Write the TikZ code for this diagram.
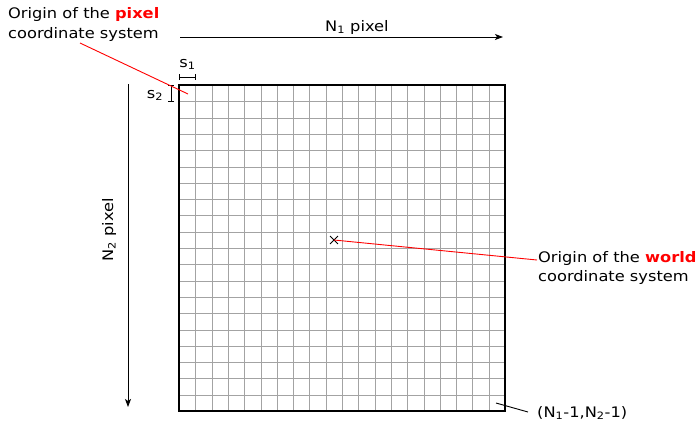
\documentclass[tikz,border=0pt]{standalone}
\usepackage{fontspec}
\setmainfont[FakeStretch=1.12]{DejaVu Sans}
\usetikzlibrary{arrows.meta,shapes.misc}

\tikzset{
  txt/.style={inner sep=0pt, anchor=base west, font=\fontsize{14.5}{17}\selectfont},
  axis/.style={line width=1pt, -{Stealth[length=8pt,width=6pt,inset=2pt]}},
  dimbar/.style={line width=0.8pt, {Bar[width=6pt]}-{Bar[width=6pt]}},
  cell/.style={draw=gray!72, line width=1.3pt},
  frame/.style={draw=black, line width=2.6pt},
  pointer/.style={red, line width=0.9pt},
  origmark/.style={draw, cross out, minimum size=7pt, inner sep=0pt, line width=0.9pt}
}

\begin{document}
\begin{tikzpicture}[x=1pt,y=-1pt]
\useasboundingbox (0,0) rectangle (700,424);

% pixel grid, 20 x 20 cells of 16.3
\foreach \i in {1,...,19} {
  \pgfmathsetmacro\px{179+round(16.3*\i)+0.5}
  \pgfmathsetmacro\py{85+round(16.3*\i)+0.5}
  \draw[cell] (\px,85) -- (\px,411);
  \draw[cell] (179,\py) -- (505,\py);
}
\draw[frame] (179,85) rectangle (505,411);
\coordinate (pxorg) at (188,94);
\node[origmark] (wo) at (334,240) {};
\coordinate (lastcell) at (496,403);

% axes
\coordinate (n1start) at (180,37);
\coordinate (n1end) at (503,37);
\draw[axis] (n1start) -- (n1end);
\node[txt] (n1lab) at (325,31) {N\textsubscript{1} pixel};

\coordinate (n2start) at (128,84);
\coordinate (n2end) at (128,407);
\draw[axis] (n2start) -- (n2end);
\node[txt, rotate=90, anchor=base] (n2lab) at (113,230) {N\textsubscript{2} pixel};

% cell size
\coordinate (s1a) at (179,77);
\coordinate (s1b) at (196,77);
\draw[dimbar] (s1a) -- (s1b);
\node[txt, anchor=base] (s1lab) at (187.5,67) {s\textsubscript{1}};
\coordinate (s2a) at (171,85);
\coordinate (s2b) at (171,102);
\draw[dimbar] (s2a) -- (s2b);
\node[txt, anchor=base] (s2lab) at (155,98) {s\textsubscript{2}};

% pixel origin
\node[txt] (pxl1) at (8,18) {Origin of the \textcolor{red}{\bfseries pixel}};
\node[txt] (pxl2) at (8,38) {coordinate system};
\coordinate (pxfoot) at (80,43);
\draw[pointer] (pxfoot) -- (pxorg);

% world origin
\node[txt] (wl1) at (538,262) {Origin of the \textcolor{red}{\bfseries world}};
\node[txt] (wl2) at (538,281) {coordinate system};
\coordinate (wfoot) at (537,260);
\draw[pointer] (wo.center) -- (wfoot);

% last pixel
\node[txt] (last) at (537,417) {(N\textsubscript{1}-1,N\textsubscript{2}-1)};
\coordinate (lastfoot) at (528,412);
\draw[line width=0.9pt] (lastcell) -- (lastfoot);
\end{tikzpicture}
\end{document}
